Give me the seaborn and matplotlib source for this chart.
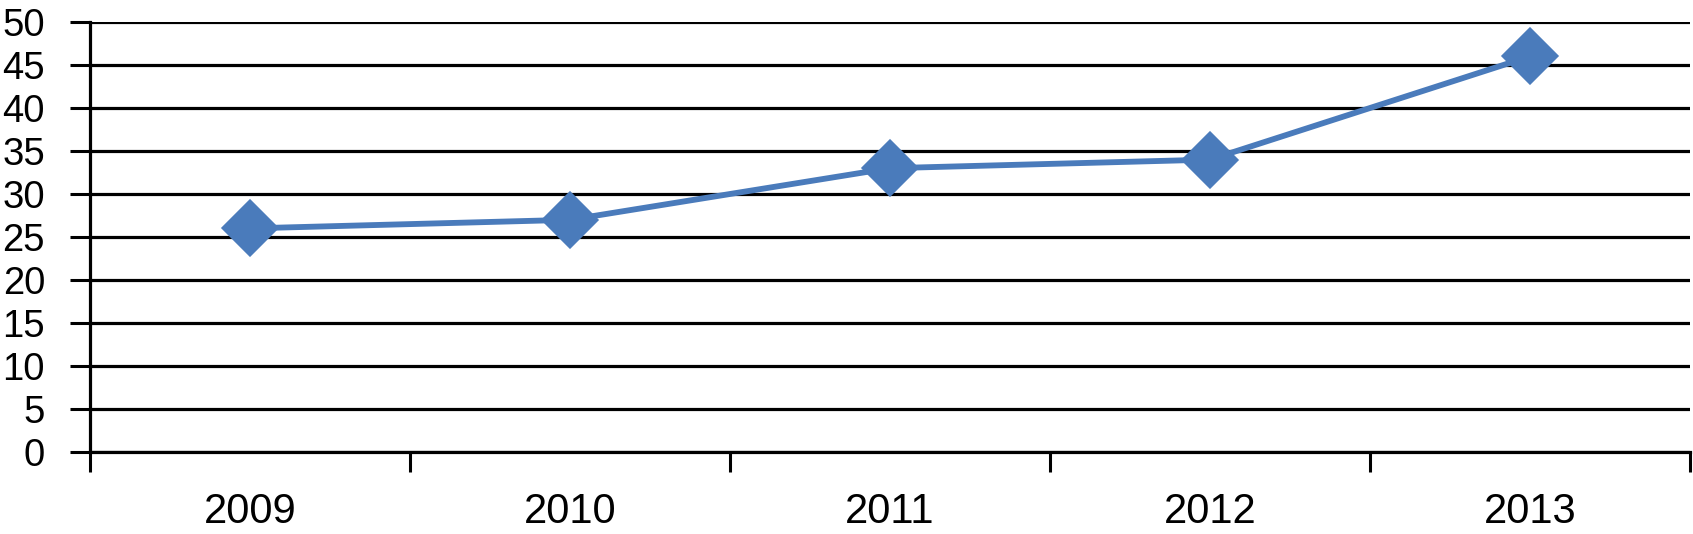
import matplotlib
matplotlib.use("Agg")
import matplotlib.pyplot as plt
import seaborn as sns

## Data
years = ['2009', '2010', '2011', '2012', '2013']
values = [26, 27, 33, 34, 46]
y_ticks = [0, 5, 10, 15, 20, 25, 30, 35, 40, 45, 50]

## Style
sns.set_style("white")
plt.rcParams['font.family'] = ['Liberation Sans', 'DejaVu Sans']
plt.rcParams['text.color'] = 'black'
plt.rcParams['xtick.color'] = 'black'
plt.rcParams['ytick.color'] = 'black'
line_color = '#4a7bbb'

fig = plt.figure(figsize=(16.93, 5.34), dpi=100)
ax = fig.add_axes([90 / 1693, 1 - 452 / 534, 1600 / 1693, 430 / 534])

# Line with diamond markers
sns.pointplot(x=years, y=values, ax=ax, color=line_color, markers='D',
              linestyles='-', errorbar=None, markersize=26, linewidth=4.2)

# Axis limits and ticks
ax.set_xlim(-0.5, len(years) - 0.5)
ax.set_ylim(0, 50)
ax.set_yticks(y_ticks)
ax.set_yticklabels([str(t) for t in y_ticks], fontsize=27.5)

# category boundaries as major ticks, labels on minor ticks
ax.set_xticks([i - 0.5 for i in range(len(years) + 1)])
ax.set_xticklabels([''] * (len(years) + 1))
ax.set_xticks(range(len(years)), minor=True)
ax.set_xticklabels(years, minor=True, fontsize=30)
ax.tick_params(axis='x', which='major', bottom=True, direction='out',
               length=14.4, width=2.2, color='black')
ax.tick_params(axis='x', which='minor', bottom=True, length=0, pad=29)
ax.tick_params(axis='y', left=True, direction='out', length=14.4, width=2.2,
               color='black', pad=18)
ax.set_xlabel('')
ax.set_ylabel('')

# Gridlines
ax.yaxis.grid(True, color='black', linewidth=2.3)
ax.set_axisbelow(True)
for side in ['top', 'right']:
    ax.spines[side].set_visible(False)
for side in ['left', 'bottom']:
    ax.spines[side].set_color('black')
    ax.spines[side].set_linewidth(2.3)

fig.savefig('out.png', dpi=100)
